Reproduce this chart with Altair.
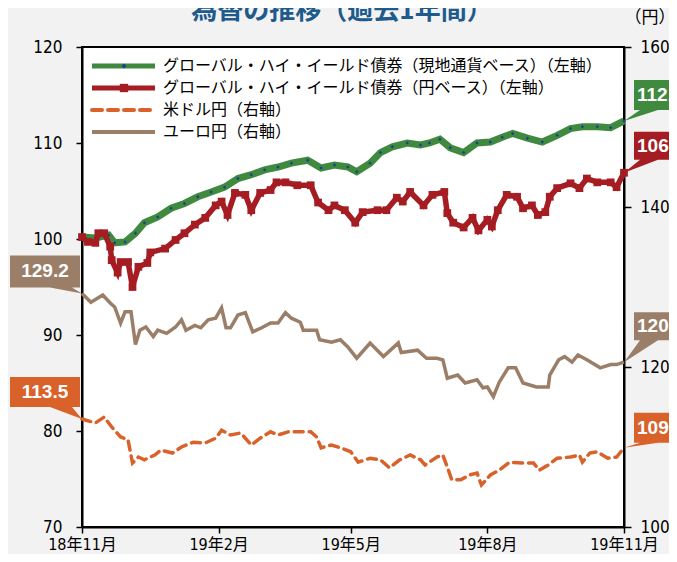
import altair as alt
import pandas as pd

START = pd.Timestamp("2018-11-01")

# Global high yield bonds, local-currency basis (left axis)
hy_local_days = [0, 9, 18, 22, 29, 36, 42, 51, 60, 69, 78, 87, 96, 105, 114, 123, 132, 141, 152, 161,
                 170, 179, 185, 194, 201, 209, 219, 228, 234, 241, 248, 257, 266, 275, 283, 290, 300, 310, 320, 329,
                 337, 347, 356, 365]
hy_local_vals = [100.2, 100.1, 100.4, 99.6, 99.7, 100.6, 101.7, 102.3, 103.2, 103.7, 104.4, 104.9, 105.4, 106.3, 106.7,
                 107.2, 107.5, 107.9, 108.2, 107.4, 107.7, 107.5, 107.0, 107.9, 109.0, 109.6, 110.0, 109.8, 110.0, 110.4,
                 109.5, 109.0, 110.0, 110.1, 110.6, 111.0, 110.5, 110.1, 110.8, 111.5, 111.7, 111.7, 111.6, 112.3]

# Global high yield bonds, yen basis (left axis)
hy_yen_days = [0, 4, 9, 11, 15, 19, 20, 24, 26, 31, 34, 38, 44, 46, 56, 63, 69, 76, 83, 90,
               94, 98, 103, 110, 114, 120, 127, 131, 137, 145, 154, 159, 166, 170, 177, 184, 189, 199, 205, 212,
               216, 221, 230, 236, 244, 246, 250, 257, 263, 267, 273, 276, 280, 286, 293, 297, 303, 307, 312, 315,
               320, 329, 335, 340, 347, 356, 360, 365]
hy_yen_vals = [100.2, 99.7, 99.6, 100.6, 100.6, 99.2, 97.8, 96.5, 97.6, 97.6, 95.0, 97.1, 97.5, 98.6, 99.0, 99.9,
               100.6, 101.5, 102.2, 103.5, 103.9, 102.5, 104.8, 104.6, 103.0, 104.8, 105.1, 105.9, 105.9, 105.6,
               105.6, 103.8, 103.0, 103.5, 103.0, 101.7, 102.8, 103.0, 103.0, 104.3, 103.9, 104.9, 103.5, 104.6,
               104.9, 102.7, 101.7, 101.2, 102.2, 100.9, 102.0, 101.3, 103.0, 104.6, 104.4, 103.2, 103.5, 102.5,
               102.8, 104.4, 105.3, 105.8, 105.3, 106.3, 105.9, 105.9, 105.4, 106.9]

# USD/JPY (right axis)
usd_days = [0, 9, 15, 20, 26, 31, 34, 38, 42, 49, 53, 61, 67, 75, 83, 90, 94, 100, 107, 114,
            120, 127, 132, 139, 145, 154, 158, 161, 168, 174, 181, 186, 194, 201, 207, 214, 221, 228, 231, 239,
            243, 246, 249, 255, 261, 266, 269, 275, 281, 288, 297, 304, 308, 314, 320, 329, 335, 337, 342, 347,
            354, 360, 365]
usd_vals = [113.5, 113.0, 113.75, 112.5, 111.25, 110.9, 108.0, 108.75, 108.4, 109.0, 109.6, 109.25, 110.0, 110.6,
            110.5, 111.1, 112.1, 111.5, 111.75, 110.25, 111.1, 111.9, 111.5, 111.9, 111.9, 111.9, 111.25, 109.9,
            110.25, 109.9, 109.4, 108.1, 108.6, 108.4, 107.4, 108.4, 109.0, 108.4, 107.75, 108.75, 109.0, 107.5,
            105.9, 105.9, 106.5, 106.75, 105.25, 106.5, 107.1, 108.1, 108.0, 108.0, 107.1, 107.75, 108.6, 108.75,
            109.0, 108.1, 109.25, 109.4, 108.6, 108.75, 109.9]

# EUR/JPY (right axis)
eur_days = [0, 6, 14, 19, 22, 26, 29, 33, 36, 39, 43, 48, 51, 57, 63, 67, 70, 76, 80, 85,
            90, 94, 97, 100, 105, 110, 115, 121, 127, 132, 137, 141, 147, 149, 158, 160, 168, 174, 179, 185,
            194, 203, 213, 215, 226, 232, 239, 243, 246, 253, 258, 266, 270, 273, 277, 281, 287, 292, 297, 306,
            314, 315, 321, 325, 330, 334, 340, 349, 356, 360, 365]
eur_vals = [129.2, 128.1, 129.0, 128.0, 127.5, 125.5, 126.9, 126.9, 122.8, 124.6, 125.0, 123.8, 124.6, 124.2,
            125.0, 125.9, 124.6, 125.2, 124.9, 125.9, 126.1, 127.4, 124.9, 124.9, 126.5, 126.8, 124.4, 124.9,
            125.5, 125.5, 126.8, 126.1, 125.6, 124.6, 124.6, 123.4, 123.1, 123.4, 122.5, 121.1, 123.0, 121.3,
            123.0, 121.8, 122.1, 121.1, 121.1, 120.9, 118.6, 119.0, 118.0, 118.4, 117.4, 117.5, 116.3, 118.1,
            119.9, 119.9, 118.0, 117.5, 117.5, 119.0, 120.9, 121.3, 120.6, 121.5, 120.9, 119.9, 120.3, 120.3, 120.6]

legend_labels = [
    "グローバル・ハイ・イールド債券（現地通貨ベース）（左軸）",
    "グローバル・ハイ・イールド債券（円ベース）（左軸）",
    "米ドル円（右軸）",
    "ユーロ円（右軸）",
]
x_tick_dates = [(2018, 11), (2019, 2), (2019, 5), (2019, 8), (2019, 11)]
left_ticks = [70, 80, 90, 100, 110, 120]
right_ticks = [100, 120, 140, 160]

GREEN = "#3f8a3f"
NAVY = "#1f3f8f"
RED = "#a51d22"
ORANGE = "#d9622b"
BROWN = "#9b7e68"
TITLE_BLUE = "#1f5a8c"
CJK = "Noto Sans CJK JP"
NUM_FONT = "Liberation Sans Narrow, Arial Narrow, DejaVu Sans Condensed, Noto Sans CJK JP, sans-serif"


def frame(days, vals):
    return pd.DataFrame({
        "date": [(START + pd.Timedelta(days=d)).strftime("%Y-%m-%d") for d in days],
        "value": vals,
    })


df_local = frame(hy_local_days, hy_local_vals)
df_yen = frame(hy_yen_days, hy_yen_vals)
df_usd = frame(usd_days, usd_vals)
df_eur = frame(eur_days, eur_vals)

x_axis = alt.Axis(
    values=[alt.DateTime(year=y, month=m, date=1, utc=True) for y, m in x_tick_dates],
    labelExpr="utcFormat(datum.value, '%y年%-m月')", grid=False, domainColor="black", domainWidth=2,
    tickColor="black", tickWidth=1.5, tickSize=6, labelPadding=3, labelFont=NUM_FONT,
    labelFontSize=16, labelColor="black", labelOverlap=False, labelFlush=False, labelBound=False, title=None,
)
x_scale = alt.Scale(type="utc", domain=[alt.DateTime(year=2018, month=11, date=1, utc=True),
                                        alt.DateTime(year=2019, month=11, date=1, utc=True)], nice=False)
X = alt.X("date:T", scale=x_scale, axis=x_axis)

left_scale = alt.Scale(domain=[70, 120], nice=False, zero=False)
right_scale = alt.Scale(domain=[100, 160], nice=False, zero=False)

left_axis = alt.Axis(orient="left", values=left_ticks, grid=False, domainColor="black", domainWidth=2,
                     tickColor="black", tickWidth=1.5, tickSize=6, labelPadding=14, labelFont=NUM_FONT,
                     labelFontSize=17, labelColor="black", title=None)
right_axis = alt.Axis(orient="right", values=right_ticks, grid=False, domainColor="black", domainWidth=2,
                      tickColor="black", tickWidth=1.5, tickSize=7, labelPadding=9, labelFont=NUM_FONT,
                      labelFontSize=17, labelColor="black", title=None)

eur_line = alt.Chart(df_eur).mark_line(color=BROWN, strokeWidth=3.5).encode(
    x=X, y=alt.Y("value:Q", scale=right_scale, axis=right_axis))
usd_line = alt.Chart(df_usd).mark_line(color=ORANGE, strokeWidth=3.5, strokeDash=[9, 6], strokeCap="round").encode(
    x=X, y=alt.Y("value:Q", scale=right_scale, axis=None))
local_line = alt.Chart(df_local).mark_line(color=GREEN, strokeWidth=7).encode(
    x=X, y=alt.Y("value:Q", scale=left_scale, axis=None))
local_pts = alt.Chart(df_local).mark_point(shape="diamond", filled=True, color=NAVY, size=12, opacity=1).encode(
    x=X, y=alt.Y("value:Q", scale=left_scale, axis=None))
yen_line = alt.Chart(df_yen).mark_line(color=RED, strokeWidth=5.5).encode(
    x=X, y=alt.Y("value:Q", scale=left_scale, axis=left_axis))
yen_pts = alt.Chart(df_yen).mark_point(shape="square", filled=True, color=RED, size=60, opacity=1).encode(
    x=X, y=alt.Y("value:Q", scale=left_scale, axis=None))


def callout(df, idx, scale, path, color, dx, dy, align):
    row = df.iloc[[idx]].copy()
    row["label"] = f"{row['value'].iloc[0]:.1f}"
    box = alt.Chart(row).mark_point(shape=path, size=4, filled=True, fill=color, strokeWidth=0, opacity=1).encode(
        x=X, y=alt.Y("value:Q", scale=scale, axis=None))
    txt = alt.Chart(row).mark_text(color="white", font="Liberation Sans, Arial, sans-serif", fontWeight="bold",
                                   fontSize=19, dx=dx, dy=dy, align=align, baseline="middle").encode(
        x=X, y=alt.Y("value:Q", scale=scale, axis=None), text="label:N")
    return [box, txt]


callouts = []
callouts += callout(df_eur, 0, right_scale, "M-72,-38 L-2,-38 L-2,-6 L-10,-6 L0,0 L-32,-6 L-72,-6 Z",
                    BROWN, -37, -22, "center")
callouts += callout(df_usd, 0, right_scale, "M-72,-42 L-2,-42 L-2,-12 L-10,-12 L0,0 L-32,-12 L-72,-12 Z",
                    ORANGE, -37, -27, "center")
callouts += callout(df_local, -1, left_scale, "M10,-41 L90,-41 L90,-11 L34,-11 L0,0 L16,-11 L10,-11 Z",
                    GREEN, 13, -26, "left")
callouts += callout(df_yen, -1, left_scale, "M10,-41 L90,-41 L90,-13 L34,-13 L0,0 L16,-13 L10,-13 Z",
                    RED, 13, -27, "left")
callouts += callout(df_eur, -1, right_scale, "M10,-50 L90,-50 L90,-22 L34,-22 L0,0 L16,-22 L10,-22 Z",
                    BROWN, 13, -36, "left")
callouts += callout(df_usd, -1, right_scale, "M10,-35 L90,-35 L90,-5 L34,-5 L0,0 L16,-5 L10,-5 Z",
                    ORANGE, 13, -20, "left")

# Legend (drawn inside the plot, top-left)
leg = pd.DataFrame({"row": [0, 1, 2, 3], "label": legend_labels,
                    "color": [GREEN, RED, ORANGE, BROWN], "w": [5, 5, 4, 4]})
legY = alt.Y("row:Q", scale=alt.Scale(domain=[0, 3], range=[19, 85]), axis=None)
leg_solid = alt.Chart(leg[leg.row != 2]).mark_rule().encode(
    x=alt.value(10), x2=alt.value(73), y=legY,
    color=alt.Color("color:N", scale=None), strokeWidth=alt.StrokeWidth("w:Q", scale=None))
leg_dash = alt.Chart(leg[leg.row == 2]).mark_rule(strokeDash=[10, 6], strokeCap="round", color=ORANGE,
                                                   strokeWidth=4).encode(
    x=alt.value(10), x2=alt.value(73), y=legY)
leg_diamond = alt.Chart(leg[leg.row == 0]).mark_point(shape="diamond", filled=True, color=NAVY, size=25,
                                                      opacity=1).encode(x=alt.value(42), y=legY)
leg_square = alt.Chart(leg[leg.row == 1]).mark_point(shape="square", filled=True, color=RED, size=70,
                                                     opacity=1).encode(x=alt.value(42), y=legY)
leg_text = alt.Chart(leg).mark_text(align="left", baseline="middle", font=CJK, fontSize=16, color="black").encode(
    x=alt.value(81), y=legY, text="label:N")

one = pd.DataFrame({"a": [0]})
title = alt.Chart(one).mark_text(text="為替の推移（過去1年間）", font=CJK, fontSize=26, fontWeight="bold",
                                 color=TITLE_BLUE, align="center", baseline="alphabetic").encode(
    x=alt.value(260), y=alt.value(-28))
unit = alt.Chart(one).mark_text(text="（円）", font=CJK, fontSize=17, color="black", align="center",
                                baseline="middle").encode(x=alt.value(568), y=alt.value(-29))

chart = alt.layer(
    eur_line, usd_line, local_line, local_pts, yen_line, yen_pts,
    *callouts,
    leg_solid, leg_dash, leg_diamond, leg_square, leg_text,
    title, unit,
).resolve_scale(y="independent").properties(
    width=542, height=480,
    autosize=alt.AutoSizeParams(type="none"),
    padding={"left": 74, "top": 39, "right": 45, "bottom": 27},
    background="#f2f2f2",
).configure_view(stroke="black", strokeWidth=2, fill="white")

chart.save("out.html", embed_options={"renderer": "svg", "actions": False})
